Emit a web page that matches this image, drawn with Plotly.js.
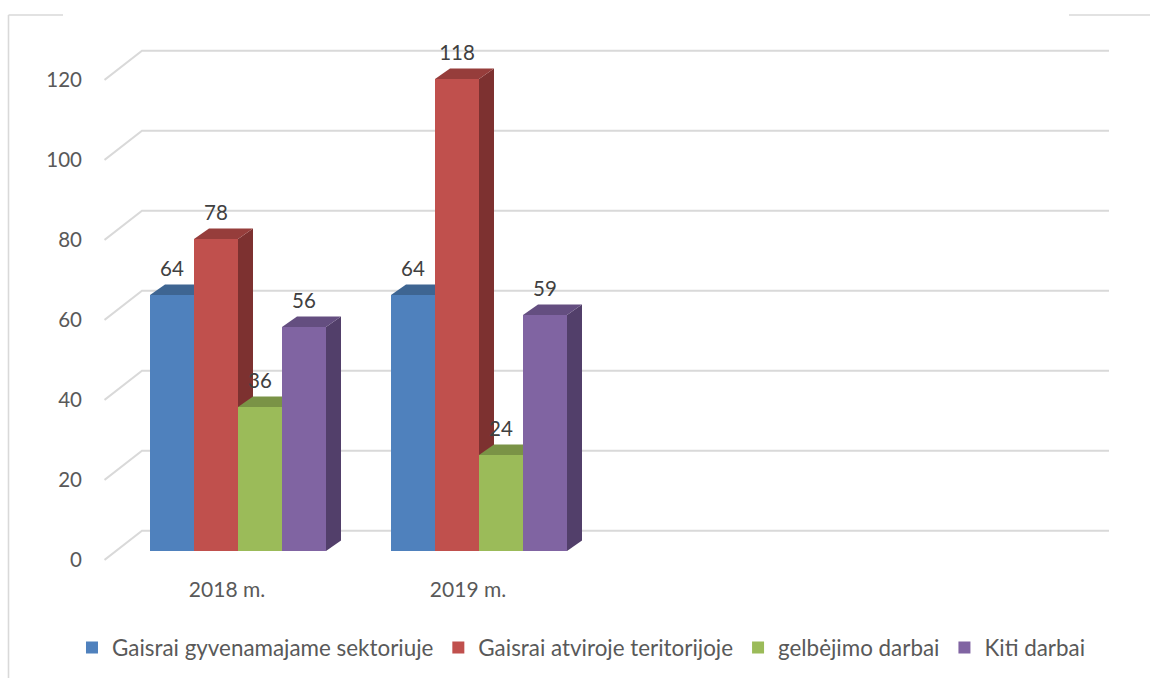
<!DOCTYPE html>
<html>
<head>
<meta charset="utf-8">
<script src="https://cdn.plot.ly/plotly-3.0.1.min.js"></script>
<style>html,body{margin:0;padding:0;background:#fff;overflow:hidden}</style>
</head>
<body>
<div id="chart" style="width:1150px;height:678px"></div>
<script>
// ---- data ----
const categories = ["2018 m.", "2019 m."];
const seriesNames = ["Gaisrai gyvenamajame sektoriuje", "Gaisrai atviroje teritorijoje", "gelbėjimo darbai", "Kiti darbai"];
const residentialFires = [64, 64];
const openTerritoryFires = [78, 118];
const rescueWork = [36, 24];
const otherWork = [56, 59];
const yTicks = [0, 20, 40, 60, 80, 100, 120];

// ---- styles ----
const frontColors = ["#4F81BD", "#C0504D", "#9BBB59", "#8064A2"];
const topColors   = ["#3E6592", "#963D3B", "#7A9346", "#644E80"];
const sideColors  = ["#2F4D70", "#7D3130", "#5E7136", "#523F6A"];
const gridColor = "#D9D9D9";
const fontFamily = "Lato, 'Open Sans', sans-serif";

// ---- geometry: plot pixels -> data units ----
const W = 1150, H = 678;
const plotL = 104, plotR = 1150, plotT = 30, plotB = 575;
const gridEndPx = 1109;
const pxPerCat = 241, pxPerVal = 4;
const cat0Px = 227, zeroPx = 551;
const dx = 15 / pxPerCat, dy = 10.5 / pxPerVal;     // bar depth
const barW = 44 / pxPerCat;
const groupStart = (150 - cat0Px) / pxPerCat;
const wallDx = (142 - plotL) / pxPerCat;
const seriesValues = [residentialFires, openTerritoryFires, rescueWork, otherWork];
const xIdx = categories.map((_, i) => i);
const xRange = [(plotL - cat0Px) / pxPerCat, (plotR - cat0Px) / pxPerCat];
const yRange = [(zeroPx - plotB) / pxPerVal, (zeroPx - plotT) / pxPerVal];
const frontDrop = (560 - zeroPx) / pxPerVal;  // wall-floor front edge below the bar foot
const wallRise = (zeroPx - 530.7) / pxPerVal; // back wall above the bar foot

const poly = (pts, fill) => ({
  type: "path", xref: "x", yref: "y", layer: "below",
  path: "M" + pts.map(p => p[0] + "," + p[1]).join("L") + "Z",
  fillcolor: fill, line: {width: 0}
});

const shapes = [];
// gridlines: diagonal side wall + back wall
yTicks.forEach(v => {
  const x0 = xRange[0] + 0.5 / pxPerCat, x1 = xRange[0] + wallDx, x2 = (gridEndPx - cat0Px) / pxPerCat;
  shapes.push({
    type: "path", xref: "x", yref: "y", layer: "below",
    path: `M${x0},${v - frontDrop}L${x1},${v + wallRise}L${x2},${v + wallRise}`,
    line: {color: gridColor, width: 2}
  });
});
// frame fragments
const frame = {color: gridColor, width: 1.6};
const px = x => (x - plotL) / (plotR - plotL);
const py = y => (plotB - y) / (plotB - plotT);
[[8.5, 678, 8.5, 15], [8.5, 15, 63, 15], [1069, 15, 1150, 15]].forEach(s => {
  shapes.push({type: "line", xref: "paper", yref: "paper", layer: "below",
    x0: px(s[0]), y0: py(s[1]), x1: px(s[2]), y1: py(s[3]), line: frame});
});
// 3D side and top faces
seriesValues.forEach((vals, k) => {
  vals.forEach((v, i) => {
    const l = i + groupStart + k * barW, r = l + barW;
    shapes.push(poly([[r, 0], [r + dx, dy], [r + dx, v + dy], [r, v]], sideColors[k]));
    shapes.push(poly([[l, v], [l + dx, v + dy], [r + dx, v + dy], [r, v]], topColors[k]));
  });
});

const traces = seriesValues.map((vals, k) => ({
  type: "bar", name: seriesNames[k], x: xIdx, y: vals,
  width: barW, offset: groupStart + k * barW,
  marker: {color: frontColors[k], line: {width: 0}},
  hoverinfo: "name+y"
}));
seriesValues.forEach((vals, k) => {
  traces.push({
    type: "scatter", mode: "text", showlegend: false, hoverinfo: "skip",
    x: xIdx.map(i => i + groupStart + (k + 0.5) * barW),
    y: vals.map(v => v + 6),
    text: vals.map(String), textposition: "middle center",
    textfont: {family: fontFamily, size: 20.5, color: "#404040"}, cliponaxis: false
  });
});

const layout = {
  width: W, height: H, autosize: false,
  margin: {l: plotL, r: W - plotR, t: plotT, b: H - plotB, pad: 0},
  paper_bgcolor: "#FFFFFF", plot_bgcolor: "rgba(0,0,0,0)",
  barmode: "overlay", showlegend: true,
  font: {family: fontFamily, size: 20.5, color: "#595959"},
  xaxis: {range: xRange, tickmode: "array", tickvals: xIdx, ticktext: categories,
    showgrid: false, zeroline: false, showline: false, ticks: "",
    tickfont: {family: fontFamily, size: 21, color: "#595959"}},
  yaxis: {range: yRange, tickmode: "array", tickvals: yTicks, ticktext: yTicks.map(String),
    showgrid: false, zeroline: false, showline: false, ticks: "",
    ticklabelstandoff: 21, ticklabelshift: 9,
    tickfont: {family: fontFamily, size: 20.5, color: "#595959"}},
  legend: {orientation: "h", x: 0.0626, xanchor: "left", y: 30 / H, yanchor: "middle",
    xref: "container", yref: "container",
    font: {family: fontFamily, size: 22.4, color: "#595959"}, bgcolor: "rgba(0,0,0,0)",
    itemclick: false, itemdoubleclick: false},
  shapes: shapes
};
Plotly.newPlot("chart", traces, layout, {displayModeBar: false, responsive: false});
</script>
</body>
</html>
